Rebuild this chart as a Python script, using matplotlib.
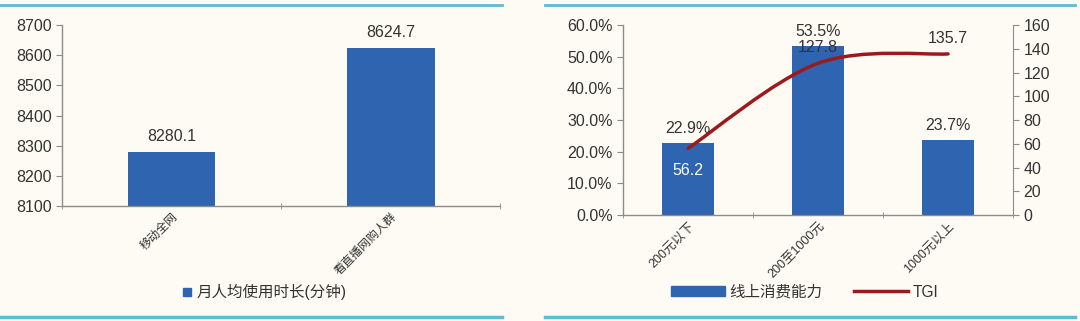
import numpy as np
import matplotlib
matplotlib.use("Agg")
import matplotlib.pyplot as plt
from matplotlib.lines import Line2D
from matplotlib.patches import Patch
from matplotlib.path import Path
from matplotlib.patches import PathPatch

plt.rcParams["font.family"] = ["Liberation Sans", "Noto Sans CJK SC", "DejaVu Sans"]

# ==========================================
# 데이터
# ==========================================
left_cats = ["移动全网", "看直播网购人群"]
left_vals = [8280.1, 8624.7]
left_label = "月人均使用时长(分钟)"

right_cats = ["200元以下", "200至1000元", "1000元以上"]
share_vals = [22.9, 53.5, 23.7]   # %
tgi_vals = [56.2, 127.8, 135.7]
share_label = "线上消费能力"
tgi_label = "TGI"

BG = "#fdfbf3"
BAR = "#2e64b0"
LINE = "#9b1a1e"
CYAN = "#5bbcd6"
TXT = "#333333"
SPINE = "#8c8c8c"

fig = plt.figure(figsize=(10.8, 3.21), dpi=100)
fig.patch.set_facecolor(BG)

# 상하 구분선
for x0, x1 in [(0.0, 0.465), (0.505, 0.995)]:
    fig.add_artist(Line2D([x0, x1], [0.985, 0.985], color=CYAN, lw=2))
    fig.add_artist(Line2D([x0, x1], [0.012, 0.012], color=CYAN, lw=2.5))


def style_axes(ax):
    ax.set_facecolor(BG)
    for s in ["top", "right"]:
        ax.spines[s].set_visible(False)
    for s in ["left", "bottom"]:
        ax.spines[s].set_color(SPINE)
        ax.spines[s].set_linewidth(1)
    ax.tick_params(axis="y", colors=SPINE, labelcolor=TXT, labelsize=11.5, length=4, direction="out")
    ax.tick_params(axis="x", which="major", length=0, labelcolor=TXT, labelsize=8.5)
    ax.tick_params(axis="x", which="minor", length=4, colors=SPINE, direction="inout")


# ==========================================
# 왼쪽 그래프
# ==========================================
ax1 = fig.add_axes([0.0574, 0.358, 0.406, 0.564])
style_axes(ax1)
x1 = np.arange(len(left_cats))
ax1.bar(x1, left_vals, width=0.4, color=BAR, label=left_label)
ax1.set_ylim(8100, 8700)
ax1.set_yticks(np.arange(8100, 8701, 100))
ax1.set_xlim(-0.5, len(left_cats) - 0.5)
ax1.set_xticks(x1)
ax1.set_xticklabels(left_cats, rotation=45, ha="right", rotation_mode="anchor")
ax1.set_xticks(np.arange(-0.5, len(left_cats), 1.0), minor=True)
for xi, v in zip(x1, left_vals):
    ax1.text(xi, v + 25, f"{v:.1f}", ha="center", va="bottom", fontsize=11.5, color=TXT)

fig.legend(handles=[Line2D([], [], marker="s", color=BAR, lw=0, markersize=6)],
           labels=[left_label], loc="center", bbox_to_anchor=(0.245, 0.09),
           frameon=False, fontsize=11.2, handlelength=0.6, handletextpad=0.3,
           labelcolor=TXT)

# ==========================================
# 오른쪽 그래프
# ==========================================
ax2 = fig.add_axes([0.577, 0.330, 0.361, 0.592])
style_axes(ax2)
x2 = np.arange(len(right_cats))
ax2.bar(x2, share_vals, width=0.4, color=BAR)
ax2.set_ylim(0, 60)
ax2.set_yticks(np.arange(0, 61, 10))
ax2.set_yticklabels([f"{t:.1f}%" for t in np.arange(0, 61, 10)])
ax2.set_xlim(-0.5, len(right_cats) - 0.5)
ax2.set_xticks(x2)
ax2.set_xticklabels(right_cats, rotation=45, ha="right", rotation_mode="anchor")
ax2.set_xticks(np.arange(-0.5, len(right_cats), 1.0), minor=True)
ax2.tick_params(axis="x", which="major", labelsize=9)
for xi, v in zip(x2, share_vals):
    ax2.text(xi, v + 2.2, f"{v:.1f}%", ha="center", va="bottom", fontsize=11.5, color=TXT)

ax3 = ax2.twinx()
ax3.set_ylim(0, 160)
ax3.set_yticks(np.arange(0, 161, 20))
for s in ["top", "left", "bottom"]:
    ax3.spines[s].set_visible(False)
ax3.spines["right"].set_color(SPINE)
ax3.tick_params(axis="y", colors=SPINE, labelcolor=TXT, labelsize=11.5, length=4)

# Catmull-Rom -> Bezier 스무딩 (엑셀 부드러운 선)
pts = np.column_stack([x2, tgi_vals]).astype(float)
ext = np.vstack([pts[0], pts, pts[-1]])
verts = [tuple(pts[0])]
codes = [Path.MOVETO]
for i in range(1, len(ext) - 2):
    p0, p1, p2, p3 = ext[i - 1], ext[i], ext[i + 1], ext[i + 2]
    c1 = p1 + (p2 - p0) / 6.0
    c2 = p2 - (p3 - p1) / 6.0
    verts += [tuple(c1), tuple(c2), tuple(p2)]
    codes += [Path.CURVE4] * 3
ax3.add_patch(PathPatch(Path(verts, codes), fill=False, edgecolor=LINE, lw=2.5,
                        capstyle="round"))

ax3.text(x2[0], tgi_vals[0] - 12, f"{tgi_vals[0]:.1f}", ha="center", va="top",
         fontsize=11.5, color="white")
for xi, v in zip(x2[1:], tgi_vals[1:]):
    ax3.text(xi, v + 7, f"{v:.1f}", ha="center", va="bottom", fontsize=11.5, color=TXT)

fig.legend(handles=[Patch(color=BAR), Line2D([], [], color=LINE, lw=2.5)],
           labels=[share_label, tgi_label], loc="center", bbox_to_anchor=(0.745, 0.09),
           ncol=2, frameon=False, fontsize=11.2, handlelength=3.5,
           handleheight=0.6, handletextpad=0.3, columnspacing=2.0, labelcolor=TXT)

plt.savefig("out.png", dpi=100, facecolor=BG)
